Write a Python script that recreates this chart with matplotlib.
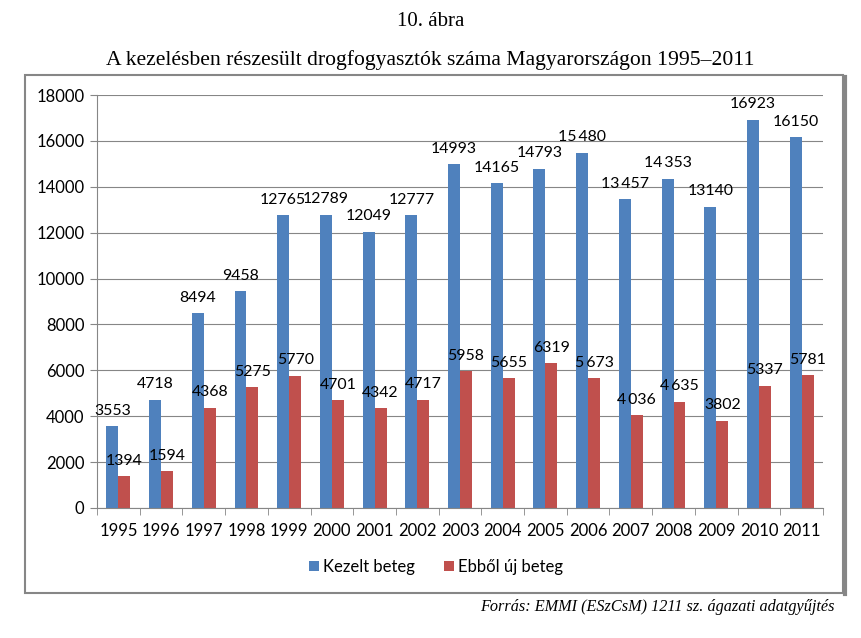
import matplotlib.pyplot as plt
from matplotlib.patches import Rectangle
from matplotlib.lines import Line2D
import numpy as np

years = ['1995', '1996', '1997', '1998', '1999', '2000', '2001', '2002', '2003',
         '2004', '2005', '2006', '2007', '2008', '2009', '2010', '2011']
kezelt = [3553, 4718, 8494, 9458, 12765, 12789, 12049, 12777, 14993,
          14165, 14793, 15480, 13457, 14353, 13140, 16923, 16150]
uj = [1394, 1594, 4368, 5275, 5770, 4701, 4342, 4717, 5958,
      5655, 6319, 5673, 4036, 4635, 3802, 5337, 5781]
kezelt_labels = ['3553', '4718', '8494', '9458', '12765', '12789', '12049', '12777', '14993',
                 '14165', '14793', '15\u2009480', '13\u2009457', '14\u2009353', '13140', '16923', '16150']
uj_labels = ['1394', '1594', '4368', '5275', '5770', '4701', '4342', '4717', '5958',
             '5655', '6319', '5\u2009673', '4\u2009036', '4\u2009635', '3802', '5337', '5781']

blue = '#4f81bd'
red = '#c0504d'
gray = '#868686'
lab_font = ['Lato', 'DejaVu Sans']
fs = 12

fig = plt.figure(figsize=(8.61, 6.38), dpi=100)

# outer chart frame with a bit of shadow on the right
fig.patches.append(Rectangle((25/861, 1-593/638), 818/861, 518/638, transform=fig.transFigure,
                             fill=False, edgecolor=gray, lw=1.5))
fig.lines.append(Line2D([845/861, 845/861], [1-594/638, 1-77/638], transform=fig.transFigure,
                        color=gray, lw=3))

fig.text(0.5, 1-22/638, '10. ábra', ha='center', va='center', family='Liberation Serif', fontsize=15)
fig.text(0.5, 1-60/638, 'A kezelésben részesült drogfogyasztók száma Magyarországon 1995\u20132011',
         ha='center', va='center', family='Liberation Serif', fontsize=15.6)

ax = fig.add_axes([97/861, 1-508/638, 726/861, 413/638])
x = np.arange(len(years))
w = 0.28
ax.bar(x - w/2, kezelt, w, color=blue, label='Kezelt beteg', zorder=2)
ax.bar(x + w/2, uj, w, color=red, label='Ebből új beteg', zorder=2)

for i in range(len(years)):
    ax.annotate(kezelt_labels[i], (x[i] - w/2, kezelt[i]), xytext=(0, 6), textcoords='offset points',
                ha='center', va='bottom', fontsize=11.4, family=lab_font)
    ax.annotate(uj_labels[i], (x[i] + w/2, uj[i]), xytext=(0, 6), textcoords='offset points',
                ha='center', va='bottom', fontsize=11.4, family=lab_font)

ax.set_xlim(-0.5, len(years) - 0.5)
ax.set_ylim(0, 18000)
ax.set_yticks(range(0, 18001, 2000))
ax.set_yticklabels([str(v) for v in range(0, 18001, 2000)], family=lab_font, fontsize=fs)
ax.set_xticks(x)
ax.set_xticklabels(years, family=lab_font, fontsize=fs)
ax.set_xticks(np.arange(-0.5, len(years)), minor=True)
ax.tick_params(axis='x', which='major', length=0, pad=11)
ax.tick_params(axis='x', which='minor', length=5, color=gray)
ax.tick_params(axis='y', length=5, color=gray, pad=4)
ax.grid(axis='y', color=gray, lw=0.8, zorder=0)
for s in ['top', 'right']:
    ax.spines[s].set_visible(False)
ax.spines['left'].set_color(gray)
ax.spines['bottom'].set_color(gray)

fig.legend(loc='center', bbox_to_anchor=(436/861, 1-567/638), ncol=2, frameon=False,
           prop={'family': lab_font, 'size': fs}, handlelength=0.6, handleheight=0.6,
           handletextpad=0.2, columnspacing=1.8)

fig.text(835/861, 1-607/638, 'Forrás: EMMI (ESzCsM) 1211 sz. ágazati adatgyűjtés',
         ha='right', va='center', family='Liberation Serif', style='italic', fontsize=11.7)

fig.savefig('out.png', dpi=100)
